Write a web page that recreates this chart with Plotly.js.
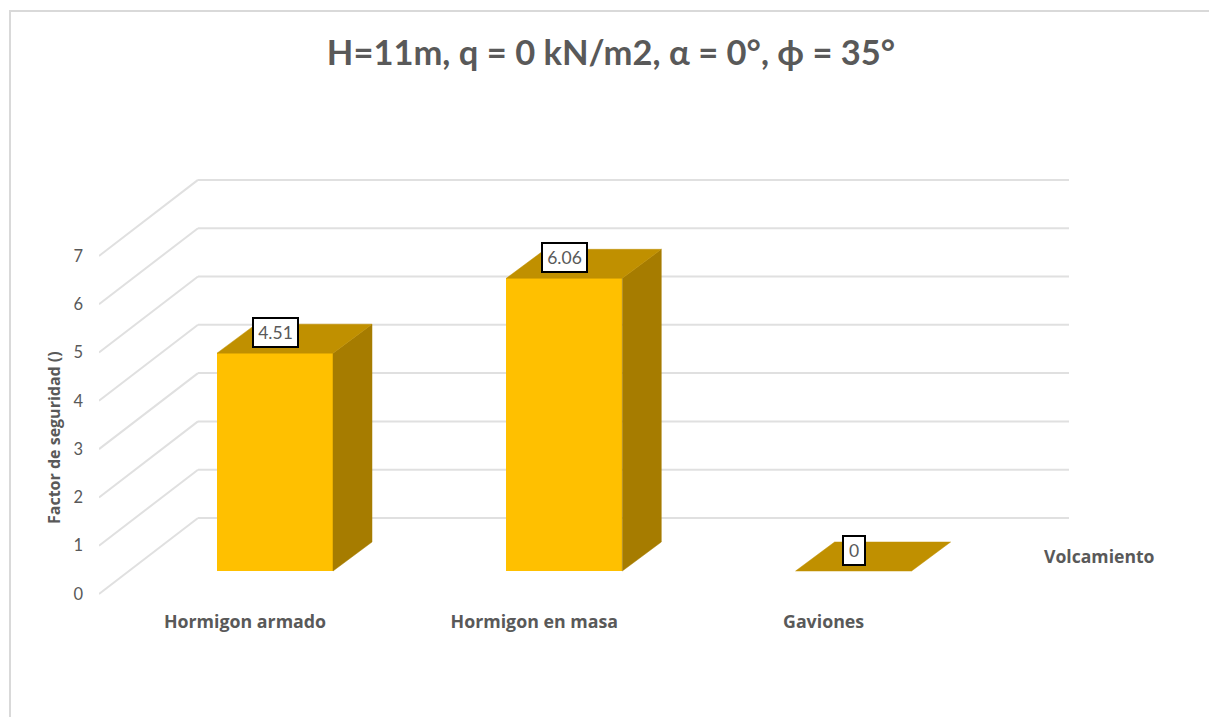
<!DOCTYPE html>
<html>
<head>
<meta charset="utf-8">
<script src="https://cdn.plot.ly/plotly-3.0.1.min.js"></script>
<style>html,body{margin:0;padding:0;background:#fff;overflow:hidden}</style>
</head>
<body>
<div id="chart" style="width:1209px;height:717px"></div>
<script>
// Data
var categories = ["Hormigon armado", "Hormigon en masa", "Gaviones"];
var volcamiento = [4.51, 6.06, 0];
var seriesName = "Volcamiento";
var yTicks = [0, 1, 2, 3, 4, 5, 6, 7];
var chartTitle = "H=11m, q = 0 kN/m2, \u03B1 = 0\u00B0, \u03D5 = 35\u00B0";
var yTitle = "Factor de seguridad ()";

// Pixel scale of the pseudo-3D projection
var W = 1209, H = 717;
var plot = {l: 99, r: 1069, t: 170, b: 600};
var pxPerCat = 289.3, pxPerUnit = 48.3;
var firstCatPx = 275, basePx = 571;
var sx = function (px) { return px / pxPerCat; };
var sy = function (px) { return px / pxPerUnit; };
var barWidth = sx(116);
var barDX = sx(39), barDY = sy(29);
var wallDX = sx(99), wallDY = sy(76);
var floorDrop = sy(23);
var labelShiftX = sx(30);

var xRange = [(plot.l - firstCatPx) / pxPerCat, (plot.r - firstCatPx) / pxPerCat];
var yRange = [(basePx - plot.b) / pxPerUnit, (basePx - plot.t) / pxPerUnit];
var idx = categories.map(function (_, i) { return i; });

// Faces
var topX = [], topY = [], sideX = [], sideY = [];
idx.forEach(function (i) {
  var v = volcamiento[i], a = i - barWidth / 2, b = i + barWidth / 2;
  topX.push(a, b, b + barDX, a + barDX, a, null);
  topY.push(v, v, v + barDY, v + barDY, v, null);
  if (v > 0) {
    sideX.push(b, b + barDX, b + barDX, b, b, null);
    sideY.push(0, barDY, v + barDY, v, 0, null);
  }
});

var traces = [
  {type: "bar", x: idx, y: volcamiento, width: barWidth, name: seriesName,
   marker: {color: "#FFC000", line: {width: 0}}, showlegend: false, hoverinfo: "y"},
  {type: "scatter", mode: "lines", x: sideX, y: sideY, fill: "toself", fillcolor: "#A67C00",
   line: {color: "#A67C00", width: 0.5}, showlegend: false, hoverinfo: "skip"},
  {type: "scatter", mode: "lines", x: topX, y: topY, fill: "toself", fillcolor: "#C09000",
   line: {color: "#C09000", width: 0.5}, showlegend: false, hoverinfo: "skip"}
];

// Wall + side-wall gridlines, below the traces
var shapes = [];
yTicks.forEach(function (v) {
  var y0 = v - floorDrop, y1 = y0 + wallDY;
  var xb = xRange[0] + wallDX;
  var ln = {color: "#E0E0E0", width: 2};
  shapes.push({type: "line", layer: "below", xref: "x", yref: "y",
    x0: xRange[0], y0: y0, x1: xb, y1: y1, line: ln});
  shapes.push({type: "line", layer: "below", xref: "x", yref: "y",
    x0: xb, y0: y1, x1: xRange[1], y1: y1, line: ln});
});
var px2paperX = function (p) { return (p - plot.l) / (plot.r - plot.l); };
var px2paperY = function (p) { return (plot.b - p) / (plot.b - plot.t); };
shapes.push({type: "rect", layer: "below", xref: "paper", yref: "paper",
  x0: px2paperX(10), x1: px2paperX(1225), y0: px2paperY(11), y1: px2paperY(735),
  line: {color: "#D9D9D9", width: 2}, fillcolor: "rgba(0,0,0,0)"});

var FONT = "Lato, 'Open Sans', sans-serif", FONT2 = "'Open Sans', Lato, sans-serif", GREY = "#595959";
var annotations = idx.map(function (i) {
  var txt = String(volcamiento[i]);
  return {xref: "x", yref: "y", x: i, y: volcamiento[i], yshift: 21, showarrow: false,
    text: txt, font: {family: FONT, size: 17.5, color: GREY},
    bgcolor: "#FFFFFF", bordercolor: "#000000", borderwidth: 2, borderpad: 0,
    width: txt.length > 1 ? 43 : 20, height: 27, align: "center", valign: "middle",
    xanchor: "center", yanchor: "middle"};
});
annotations.push({xref: "paper", yref: "paper", x: px2paperX(1099), y: px2paperY(555.5),
  showarrow: false, text: seriesName, xanchor: "center", yanchor: "middle",
  font: {family: FONT2, size: 17.6, color: GREY, weight: 700}});
annotations.push({xref: "paper", yref: "paper", x: px2paperX(54), y: px2paperY(438),
  showarrow: false, text: yTitle, textangle: -90, xanchor: "center", yanchor: "middle",
  font: {family: FONT2, size: 16, color: GREY, weight: 700}});

var layout = {
  width: W, height: H, autosize: false,
  margin: {l: plot.l, r: W - plot.r, t: plot.t, b: H - plot.b, pad: 0},
  paper_bgcolor: "#FFFFFF", plot_bgcolor: "rgba(0,0,0,0)",
  showlegend: false, bargap: 0,
  title: {text: chartTitle, x: 611 / W, xanchor: "center", y: 1 - 53 / H, yanchor: "middle",
    font: {family: FONT, size: 34.5, color: GREY, weight: 700}},
  xaxis: {range: xRange, fixedrange: true, showgrid: false, zeroline: false, showline: false,
    tickmode: "array", tickvals: idx.map(function (i) { return i - labelShiftX; }), ticktext: categories,
    ticks: "", ticklabelstandoff: 9, tickangle: 0,
    tickfont: {family: FONT2, size: 17.8, color: GREY, weight: 700}},
  yaxis: {range: yRange, fixedrange: true, showgrid: false, zeroline: false, showline: false,
    tickmode: "array", tickvals: yTicks.map(function (v) { return v - floorDrop; }),
    ticktext: yTicks.map(String), ticks: "", ticklabelstandoff: 15,
    tickfont: {family: FONT, size: 16.5, color: GREY}},
  shapes: shapes, annotations: annotations
};
Plotly.newPlot("chart", traces, layout, {displayModeBar: false, responsive: false});
</script>
</body>
</html>
